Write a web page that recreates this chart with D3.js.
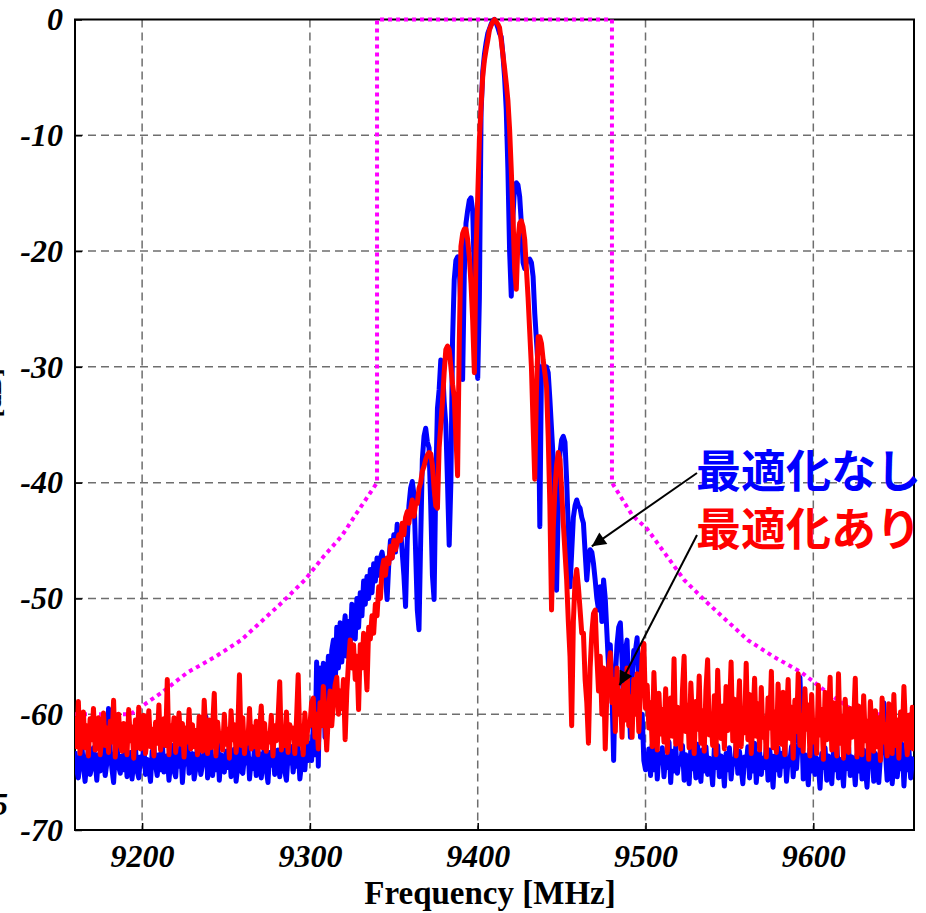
<!DOCTYPE html>
<html>
<head>
<meta charset="utf-8">
<script src="https://cdn.jsdelivr.net/npm/d3@7/dist/d3.min.js"></script>
<style>
  body { margin: 0; background: #fff; }
  svg { display: block; }
</style>
</head>
<body>
<script>
// axis ticks
const xTicks = [9200, 9300, 9400, 9500, 9600];
const yTicks = [0, -10, -20, -30, -40, -50, -60, -70];

// sampling of the traces, every 1 MHz
const leftFreq = d3.range(9160, 9300, 1);
const centerFreq = d3.range(9300, 9501, 1);
const rightFreq = d3.range(9501, 9661, 1);

// 最適化なし (blue)
const blueLeft = [
  -63.2, -64.8, -65.5, -63.9, -62.6, -64.4, -65.8, -64.1, -63, -65.2,
  -64.6, -62.9, -64, -65.7, -63.5, -64.9, -62.4, -63.8, -65.3, -64.2,
  -59.5, -63.1, -64.7, -65.9, -63.4, -62.7, -64.5, -65.1, -63.6, -64.8,
  -62.5, -65.4, -64.1, -63.3, -65.6, -64, -62.8, -64.9, -65.5, -63.7,
  -64.3, -62.6, -65.2, -63.9, -64.6, -65.8, -63.2, -62.9, -64.4, -65.3,
  -63.5, -64.8, -62.3, -65, -64.2, -63.6, -65.7, -64.1, -62.7, -64.9,
  -65.4, -63.3, -64.5, -62.8, -65.9, -63.8, -64.3, -62.5, -65.1, -64,
  -63.4, -65.6, -64.7, -62.6, -63.9, -65.2, -64.4, -63.1, -60.2, -65.5,
  -64.2, -62.9, -65.3, -63.7, -64.8, -62.4, -65.7, -63.5, -64.1, -65,
  -63.2, -64.6, -62.7, -65.4, -64.3, -63, -65.8, -64.5, -62.8, -64.9,
  -65.1, -63.6, -64.2, -62.5, -65.6, -63.9, -64.7, -62.9, -65.3, -64.1,
  -63.4, -65.5, -64, -62.6, -64.8, -65.9, -63.3, -64.4, -62.7, -65.2,
  -64.6, -63.1, -65.4, -63.8, -62.4, -64.9, -65.7, -63.5, -64.2, -62.8,
  -65, -63.7, -64.5, -62.9, -65.6, -64.3, -63.2, -64.8, -62.6, -64
];
const blueCenter = [
  -62.5, -64, -61, -63.5, -55.5, -64.5, -56, -60, -55.6, -62,
  -58, -55, -60.5, -54.5, -53.6, -58, -52.5, -56, -52.1, -55.5,
  -53, -51.5, -55, -52, -54, -50.5, -51, -53.5, -50, -52.5,
  -49.5, -51.5, -48.5, -50.5, -48.1, -50, -47.5, -49.5, -47, -48.5,
  -46.5, -48, -46.5, -46, -47, -48, -50.1, -47, -45, -46.5,
  -44.5, -46, -43.6, -45, -44, -46, -48, -50.7, -45, -42,
  -40.5, -39.9, -41, -46, -51, -52.7, -45, -38, -36, -35.3,
  -36.5, -37, -42, -48, -50.1, -40, -33.6, -32, -29.4, -30,
  -33, -35, -40, -45.4, -40, -27.7, -22.5, -20.8, -20.5, -21.5,
  -25, -31.1, -22, -17.6, -16.5, -15.6, -15.4, -16.5, -22, -28,
  -31, -24, -8, -4.5, -3, -2, -1.2, -0.8, -0.4, -0.1,
  0, -0.3, -0.7, -1.2, -1.5, -3, -5, -7.8, -13, -20,
  -23.9, -17, -14.4, -14.1, -14.3, -15.3, -17.6, -21, -21.5, -21,
  -20.8, -20.7, -21, -22.2, -25.4, -27.7, -30, -43.8, -30, -30,
  -30.2, -30, -30.5, -32.8, -35.4, -38, -44, -49.3, -42, -37.5,
  -36.3, -36, -36.5, -39.8, -44, -49, -46, -43, -42, -41.5,
  -42, -42.2, -43, -43.5, -46, -48.4, -46.5, -45.8, -46, -47,
  -48.4, -50, -51, -49, -52, -48.4, -50, -53, -56, -54,
  -58, -64, -57, -54, -52.5, -52.1, -55.3, -60, -54.5, -53.6,
  -58, -62, -57, -54.5, -54.5, -53.4, -58, -62, -60, -64,
  -64.8
];
const blueRight = [
  -64.5, -63, -65.3, -62.6, -64.8, -61.8, -65.6, -63.4, -64.2, -62.9,
  -65.4, -63.7, -64.6, -62.4, -65.9, -63.2, -64.9, -62.8, -65.1, -63.9,
  -64.3, -62.7, -65.7, -63.5, -64.1, -66, -62.9, -64.7, -63.3, -65.5,
  -62.6, -64.4, -65.8, -63.1, -64.9, -62.8, -65.2, -63.8, -64.5, -66.1,
  -63, -64.6, -62.7, -65.4, -63.6, -64.2, -66.2, -63.4, -64.8, -62.9,
  -65.6, -63.9, -64.3, -62.6, -65.1, -63.2, -64.7, -66, -63.7, -64.4,
  -62.8, -65.5, -63.5, -64.9, -62.5, -65.9, -64.1, -63.3, -65.2, -63.8,
  -64.6, -62.7, -65.7, -63.1, -64.2, -66.3, -63.6, -64.8, -62.9, -65.3,
  -63.4, -64.5, -62.6, -65.8, -63.9, -64.1, -62.8, -65.4, -63.2, -64.7,
  -62.5, -56.8, -60.5, -65.6, -63.5, -64.4, -66.1, -63, -64.9, -62.7,
  -65.2, -63.8, -64.3, -66.4, -63.4, -64.6, -62.9, -65.7, -63.6, -64,
  -66, -63.2, -64.8, -62.6, -65.5, -63.9, -64.5, -66.2, -63.3, -64.7,
  -62.8, -65.3, -63.7, -64.2, -66.1, -63.5, -64.9, -62.7, -65.6, -63.1,
  -64.6, -66.3, -63.8, -64.4, -62.9, -65.8, -63.4, -64.1, -65.9, -63.6,
  -62.7, -59, -63.3, -65.7, -64.5, -63, -66, -64.2, -62.8, -65.4,
  -63.9, -64.7, -62.6, -66.2, -63.5, -64.8, -63.1, -65.5, -64, -63.7
];

// 最適化あり (red)
const redLeft = [
  -60.2, -62.8, -58.9, -63.4, -61.5, -59.8, -62.9, -61, -63.6, -60.4,
  -62.2, -59.5, -63.1, -61.7, -60.3, -63.5, -62, -59.9, -62.7, -61.2,
  -63.3, -60.6, -62.4, -58.8, -63.7, -61.4, -60, -62.6, -63.2, -60.8,
  -61.9, -63.5, -59.6, -62.3, -61.1, -63.8, -60.5, -62.9, -59.4, -63,
  -61.6, -60.1, -63.4, -62.1, -59.7, -62.8, -61.3, -63.6, -60.7, -62.5,
  -59.2, -63.1, -61.8, -60.4, -62.7, -57, -63.5, -61, -62.2, -60.3,
  -63.3, -61.5, -59.9, -62.6, -60.8, -63.7, -61.2, -62.4, -59.6, -63,
  -60.9, -62.8, -61.4, -63.5, -60.2, -62.1, -63.2, -58.8, -61.7, -63.4,
  -60.5, -62.9, -61.1, -58.2, -63.6, -60.7, -62.3, -61.9, -63.1, -60,
  -62.6, -61.3, -63.8, -59.7, -62.2, -60.9, -63.3, -61.5, -56.6, -62.7,
  -60.3, -63.4, -61.8, -62.5, -59.5, -63, -61.1, -62.8, -60.6, -63.5,
  -61.4, -59.3, -62.9, -60.8, -63.2, -61.7, -62.4, -60.1, -63.6, -61,
  -62.3, -60.4, -57.2, -63.1, -61.6, -62.7, -59.8, -63.3, -60.9, -62,
  -61.2, -63.4, -60.5, -56.6, -62.6, -61, -63.5, -59.9, -62.4, -60.7
];
const redCenter = [
  -61, -59, -58.6, -62, -60, -63, -59, -61, -57.6, -60,
  -63.1, -60, -58, -61, -59, -57.5, -56.8, -60, -58, -59.5,
  -57, -62.2, -58, -55.5, -53.6, -56, -54, -57, -55, -59.6,
  -54, -56, -53, -55, -57.9, -52.5, -53.5, -51.5, -53, -50.5,
  -51.5, -49, -50, -47.5, -46.7, -48, -46.5, -47, -45.5, -46.5,
  -45, -45.8, -45.2, -44.5, -45, -43.5, -44.5, -43, -42.5, -43.5,
  -42.3, -41.5, -42.9, -41.8, -41.8, -40.5, -40, -39, -38.6, -38,
  -37.6, -37.4, -37.5, -38.5, -40.5, -42, -42.2, -37, -35, -33,
  -30.5, -28.5, -28.2, -28.5, -30, -31.5, -32.6, -36, -39.4, -28,
  -19.6, -18.5, -18.1, -18.1, -19, -20.5, -22.8, -26, -30.5, -20,
  -15.3, -10.4, -7.5, -4.9, -3.5, -2.6, -1.8, -0.9, -0.5, -0.2,
  0, -0.2, -0.4, -0.7, -1.8, -3, -4.2, -5.5, -7, -9.5,
  -13, -17, -21.5, -23.3, -19, -17.6, -17.4, -17.9, -19, -21.5,
  -24, -27, -30, -35, -39.7, -32, -27.4, -27.4, -28, -29.4,
  -30.5, -31.7, -36, -42, -51, -44, -40.6, -38.5, -37.4, -38,
  -40.6, -43.5, -46, -48.4, -52, -55, -61, -52, -48.5, -47.5,
  -49, -51, -53, -53, -57, -59, -62.5, -56, -53, -51.3,
  -51, -55, -58, -55, -60, -56, -63, -58, -56, -54.7,
  -59, -57, -61.5, -56, -60, -58, -62, -57.5, -60.5, -56,
  -61, -58.5, -62, -57, -60, -56.5, -61.5, -58, -55, -53.9,
  -59.5
];
const redRight = [
  -57.5, -61.2, -59, -62.8, -56.4, -60.5, -63.1, -58.2, -61.7, -59.6,
  -62.4, -57.8, -63.3, -60.2, -58.6, -61.9, -55.2, -62.6, -59.4, -60.9,
  -63, -58, -55, -61.5, -59.2, -62.9, -57.3, -60.6, -63.4, -58.9,
  -61.3, -56.7, -62.5, -59.7, -63.2, -57.9, -55.3, -61.8, -60, -62.7,
  -58.4, -63.5, -56.2, -60.8, -62.1, -59.3, -63, -57.6, -61.4, -59.9,
  -55.5, -62.3, -58.7, -63.6, -60.4, -57.1, -62.8, -59.5, -61.6, -55.6,
  -62.2, -58.3, -63.4, -60.7, -56.9, -61.9, -59.1, -63.1, -57.7, -62,
  -60.3, -63.7, -58.6, -61.2, -56.3, -62.9, -59.8, -63.3, -57.4, -60.9,
  -62.6, -58.1, -63.5, -60.5, -57, -62.1, -59.4, -63.8, -58.8, -61.5,
  -56.5, -62.7, -60.1, -63.2, -57.8, -61.3, -59.2, -63.6, -58.3, -62.4,
  -60.6, -63.4, -57.5, -61.8, -59.6, -63.9, -58.1, -62.2, -60.4, -56.8,
  -63.1, -59, -61.7, -63.6, -56.5, -62.5, -60.2, -63.8, -58.7, -61.4,
  -63.3, -59.5, -62, -60.8, -56.9, -63.7, -59.3, -61.9, -63.5, -58.4,
  -62.3, -60.6, -63.9, -58.9, -61.6, -63.2, -59.7, -62.8, -60.3, -64,
  -58.6, -62.4, -60.9, -63.6, -59.1, -61.8, -63.4, -58.3, -62.7, -60.5,
  -63.8, -59.8, -62.2, -57.6, -61.5, -63.5, -60.1, -62.9, -59.4, -63.2
];

// spectrum mask (magenta dotted)
const maskFreq = [9160, 9193, 9211, 9227, 9244, 9259, 9283, 9297, 9308, 9319, 9328, 9340, 9340,
                  9480, 9480, 9492, 9501, 9512, 9523, 9537, 9561, 9576, 9593, 9609, 9627, 9660];
const maskDb = [-60, -60, -58.2, -56.4, -55, -53.6, -50.4, -48.4, -46.4, -44.6, -42.6, -40, 0,
                0, -40, -42.8, -44, -46.2, -48.4, -50.4, -53.6, -55, -56.4, -58.2, -60, -60];

const labelBlue = "最適化なし";
const labelRed = "最適化あり";

const W = 926, H = 913;
const svg = d3.select("body").append("svg")
    .attr("width", W)
    .attr("height", H);

const x = d3.scaleLinear().domain([9160, 9660]).range([75, 914]);
const y = d3.scaleLinear().domain([-70, 0]).range([830, 19.5]);

const join = (f, v) => f.map((d, i) => [d, v[i]]);
const blue = join(leftFreq, blueLeft).concat(join(centerFreq, blueCenter), join(rightFreq, blueRight));
const red = join(leftFreq, redLeft).concat(join(centerFreq, redCenter), join(rightFreq, redRight));
const mask = join(maskFreq, maskDb);

svg.append("defs").append("clipPath").attr("id", "plot")
  .append("rect")
    .attr("x", x(9160)).attr("y", y(0) - 3)
    .attr("width", x(9660) - x(9160)).attr("height", y(-70) - y(0) + 3);

// grid
const grid = svg.append("g").attr("stroke", "#6e6e6e").attr("stroke-width", 1.5).attr("stroke-dasharray", "8,5");
grid.selectAll(".gx").data(xTicks).enter().append("line")
    .attr("x1", d => x(d)).attr("x2", d => x(d))
    .attr("y1", y(0)).attr("y2", y(-70));
grid.selectAll(".gy").data(yTicks.slice(1, -1)).enter().append("line")
    .attr("x1", x(9160)).attr("x2", x(9660))
    .attr("y1", d => y(d)).attr("y2", d => y(d));

// axes
const fmt = d => String(d);
const yAxis = svg.append("g")
    .attr("transform", `translate(${x(9160)},0)`)
    .call(d3.axisLeft(y).tickValues(yTicks).tickSize(-7).tickPadding(12).tickFormat(fmt));
const xAxis = svg.append("g")
    .attr("transform", `translate(0,${y(-70)})`)
    .call(d3.axisBottom(x).tickValues(xTicks).tickSize(-7).tickPadding(14).tickFormat(fmt));
[yAxis, xAxis].forEach(a => {
  a.select(".domain").remove();
  a.selectAll(".tick line").attr("stroke", "#000").attr("stroke-width", 1.5);
  a.selectAll("text")
    .attr("fill", "#000")
    .style("font-family", "'Liberation Serif', 'Times New Roman', serif")
    .style("font-size", "32px")
    .style("font-weight", "bold")
    .style("font-style", "italic");
});

// frame
svg.append("rect")
    .attr("x", x(9160)).attr("y", y(0))
    .attr("width", x(9660) - x(9160)).attr("height", y(-70) - y(0))
    .attr("fill", "none").attr("stroke", "#000").attr("stroke-width", 2);

const plot = svg.append("g").attr("clip-path", "url(#plot)");
const line = d3.line().x(d => x(d[0])).y(d => y(d[1]));

plot.append("path").datum(mask)
    .attr("d", line)
    .attr("fill", "none").attr("stroke", "#ff00ff")
    .attr("stroke-width", 4).attr("stroke-dasharray", "4,4");

plot.append("path").datum(blue)
    .attr("d", line)
    .attr("fill", "none").attr("stroke", "#0000ff")
    .attr("stroke-width", 5).attr("stroke-linejoin", "round");

plot.append("path").datum(red)
    .attr("d", line)
    .attr("fill", "none").attr("stroke", "#ff0000")
    .attr("stroke-width", 5).attr("stroke-linejoin", "round");

// x axis title
svg.append("text")
    .attr("x", 490).attr("y", 904)
    .attr("text-anchor", "middle")
    .style("font-family", "'Liberation Serif', 'Times New Roman', serif")
    .style("font-size", "33px").style("font-weight", "bold")
    .text("Frequency [MHz]");

// clipped bits of the y title at the left edge
svg.append("text")
    .attr("transform", "translate(1,393) rotate(-90)")
    .attr("text-anchor", "middle")
    .style("font-family", "'Liberation Serif', serif")
    .style("font-size", "26px").style("font-weight", "bold")
    .text("[dB]");
svg.append("text")
    .attr("x", 8).attr("y", 815).attr("text-anchor", "end")
    .style("font-family", "'Liberation Serif', serif")
    .style("font-size", "31px").style("font-weight", "bold").style("font-style", "italic")
    .text("5");

// annotations
svg.append("defs").append("marker")
    .attr("id", "head").attr("viewBox", "0 0 10 10")
    .attr("refX", 10).attr("refY", 5)
    .attr("markerWidth", 16).attr("markerHeight", 14)
    .attr("markerUnits", "userSpaceOnUse")
    .attr("orient", "auto")
  .append("path").attr("d", "M0,0L10,5L0,10Z").attr("fill", "#000");

svg.append("line")
    .attr("x1", 697).attr("y1", 473)
    .attr("x2", x(9468)).attr("y2", y(-45.5))
    .attr("stroke", "#000").attr("stroke-width", 2)
    .attr("marker-end", "url(#head)");
svg.append("line")
    .attr("x1", 697).attr("y1", 535)
    .attr("x2", x(9484.5)).attr("y2", y(-57.5))
    .attr("stroke", "#000").attr("stroke-width", 2)
    .attr("marker-end", "url(#head)");

const cjk = "'Noto Sans CJK JP', 'Noto Sans CJK SC', sans-serif";
svg.append("text")
    .attr("x", 696).attr("y", 488)
    .attr("fill", "#0000ff")
    .style("font-family", cjk).style("font-size", "45px").style("font-weight", "bold")
    .text(labelBlue);
svg.append("text")
    .attr("x", 696).attr("y", 546)
    .attr("fill", "#ff0000")
    .style("font-family", cjk).style("font-size", "45px").style("font-weight", "bold")
    .text(labelRed);
</script>
</body>
</html>
